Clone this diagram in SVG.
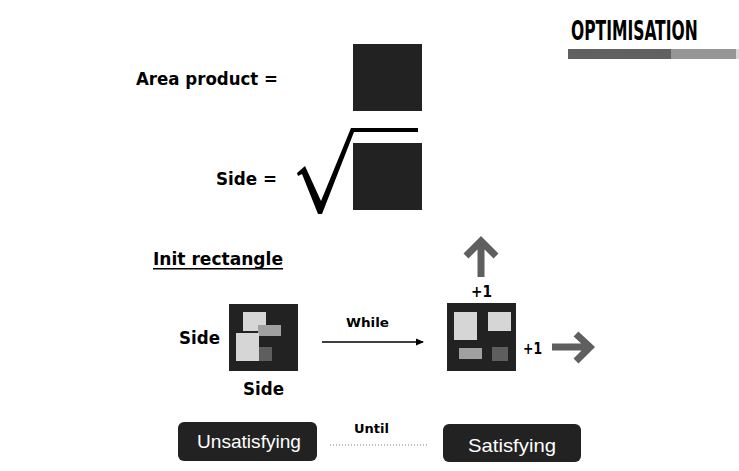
<svg xmlns="http://www.w3.org/2000/svg" width="739" height="471" viewBox="0 0 739 471">
<style>
.lbl{font-family:"DejaVu Sans","Liberation Sans",Arial,sans-serif;font-weight:bold;fill:#000}
.box{fill:#222}
.btn{fill:#222}
.btxt{font-family:"Liberation Sans",Arial,sans-serif;fill:#fff;font-size:19px}
.big{stroke:#5f5f5f;stroke-width:7;fill:none;stroke-linejoin:miter}
.l1{fill:#d6d6d6}.l2{fill:#a0a0a0}.l3{fill:#5e5e5e}
</style>
<defs>
<marker id="ah" markerWidth="8" markerHeight="8" refX="7" refY="4" orient="auto" markerUnits="userSpaceOnUse">
<path d="M0,0.5 L8,4 L0,7.5 Z" fill="#000"/>
</marker>
</defs>
<rect width="739" height="471" fill="#fff"/>
<g id="title">
<text transform="translate(571,40) scale(0.64,1)" x="0" y="0" font-family="'DejaVu Sans Condensed','DejaVu Sans',sans-serif" font-weight="bold" font-size="27" fill="#000">OPTIMISATION</text>
<rect x="568" y="49" width="103" height="10" fill="#606060"/>
<rect x="671" y="49" width="65" height="10" fill="#969696"/>
<rect x="736" y="49" width="3" height="10" fill="#d8d8d8"/>
</g>
<g id="area">
<text class="lbl" x="136" y="85" font-size="18" textLength="142" lengthAdjust="spacingAndGlyphs">Area product =</text>
<rect class="box" x="353" y="44" width="69" height="67"/>
</g>
<g id="side-formula">
<text class="lbl" x="216" y="185" font-size="18" textLength="61" lengthAdjust="spacingAndGlyphs">Side =</text>
<path d="M297,173 L305,166 L321,201 L351,128 L418,128 L418,132 L354,132 L322,214 L318,214 L302,174 L298,176 Z" fill="#000"/>
<rect class="box" x="353" y="143" width="69" height="67"/>
</g>
<g id="init">
<text class="lbl" x="153" y="265" font-size="17" textLength="130" lengthAdjust="spacingAndGlyphs">Init rectangle</text>
<rect x="153" y="268" width="130" height="1.5" fill="#000"/>
</g>
<g id="rect1">
<rect class="box" x="229" y="304" width="69" height="67"/>
<rect class="l1" x="243" y="312" width="23" height="19"/>
<rect class="l2" x="258" y="325" width="23" height="11"/>
<rect class="l1" x="236" y="333" width="23" height="28"/>
<rect class="l3" x="259" y="347" width="13" height="14"/>
<text class="lbl" x="179" y="344" font-size="18" textLength="41" lengthAdjust="spacingAndGlyphs">Side</text>
<text class="lbl" x="243" y="395" font-size="18" textLength="41" lengthAdjust="spacingAndGlyphs">Side</text>
</g>
<g id="rect2">
<rect class="box" x="447" y="303" width="69" height="68"/>
<rect class="l1" x="454" y="312" width="23" height="28"/>
<rect class="l1" x="488" y="312" width="23" height="19"/>
<rect class="l2" x="459" y="348" width="23" height="11"/>
<rect class="l3" x="492" y="347" width="16" height="14"/>
<text class="lbl" x="471" y="297" font-size="16" textLength="21" lengthAdjust="spacingAndGlyphs">+1</text>
<text class="lbl" x="523" y="354" font-size="16" textLength="19" lengthAdjust="spacingAndGlyphs">+1</text>
</g>
<g id="unsatisfying">
<rect class="btn" x="178" y="422" width="139" height="39" rx="6"/>
<text class="btxt" x="197" y="448" textLength="104" lengthAdjust="spacingAndGlyphs">Unsatisfying</text>
</g>
<g id="satisfying">
<rect class="btn" x="443" y="424" width="138" height="38" rx="6"/>
<text class="btxt" x="468" y="452" font-size="20" textLength="88" lengthAdjust="spacingAndGlyphs">Satisfying</text>
</g>
<g id="connectors">
<line x1="322" y1="342" x2="423" y2="342" stroke="#000" stroke-width="1.5" marker-end="url(#ah)"/>
<text class="lbl" x="346" y="327" font-size="13" textLength="43" lengthAdjust="spacingAndGlyphs">While</text>
<line x1="330" y1="445" x2="428" y2="445" stroke="#777" stroke-width="1" stroke-dasharray="1,2"/>
<text class="lbl" x="354" y="433" font-size="13" textLength="35" lengthAdjust="spacingAndGlyphs">Until</text>
<path class="big" d="M481,277 L481,242 M466,256 L481,241 L496,256"/>
<path class="big" d="M552,347 L588,347 M576,334 L590,347 L576,361"/>
</g>
</svg>
